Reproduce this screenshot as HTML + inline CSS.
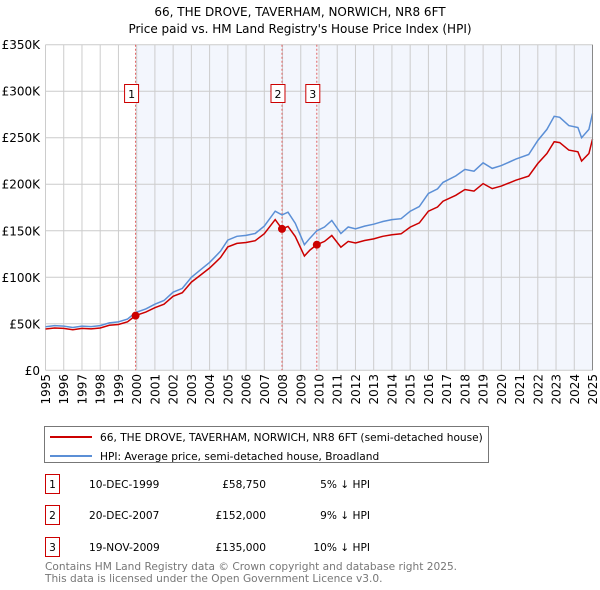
<!DOCTYPE html>
<html><head><meta charset="utf-8"><style>
body{margin:0;background:#fff;font-family:"DejaVu Sans","Liberation Sans",sans-serif;}
svg{display:block}
</style></head><body>
<svg id="c" width="600" height="590" xmlns="http://www.w3.org/2000/svg">
<text x="300" y="16" text-anchor="middle" font-size="12" fill="#000">66, THE DROVE, TAVERHAM, NORWICH, NR8 6FT</text>
<text x="300" y="33" text-anchor="middle" font-size="12" fill="#000">Price paid vs. HM Land Registry's House Price Index (HPI)</text>
<g id="plot"></g>
<g>
<rect x="44.5" y="426.5" width="444" height="36" fill="#fff" stroke="#777"/>
<line x1="50" y1="437" x2="92" y2="437" stroke="#cc0000" stroke-width="2"/>
<text x="100" y="441" font-size="10.6">66, THE DROVE, TAVERHAM, NORWICH, NR8 6FT (semi-detached house)</text>
<line x1="50" y1="456" x2="92" y2="456" stroke="#5b8fd6" stroke-width="2"/>
<text x="100" y="460" font-size="10.6">HPI: Average price, semi-detached house, Broadland</text>
</g>
<g font-size="10.6">
<rect x="45.5" y="474.5" width="14" height="19" fill="#fff" stroke="#cc0000"/><text x="52.5" y="488" text-anchor="middle">1</text>
<text x="89" y="488">10-DEC-1999</text><text x="266" y="488" text-anchor="end">£58,750</text><text x="370" y="488" text-anchor="end">5% ↓ HPI</text>
<rect x="45.5" y="505.5" width="14" height="19" fill="#fff" stroke="#cc0000"/><text x="52.5" y="519" text-anchor="middle">2</text>
<text x="89" y="519">20-DEC-2007</text><text x="266" y="519" text-anchor="end">£152,000</text><text x="370" y="519" text-anchor="end">9% ↓ HPI</text>
<rect x="45.5" y="537.5" width="14" height="19" fill="#fff" stroke="#cc0000"/><text x="52.5" y="551" text-anchor="middle">3</text>
<text x="89" y="551">19-NOV-2009</text><text x="266" y="551" text-anchor="end">£135,000</text><text x="370" y="551" text-anchor="end">10% ↓ HPI</text>
</g>
<text x="45" y="570" font-size="10.6" fill="#777">Contains HM Land Registry data © Crown copyright and database right 2025.</text>
<text x="45" y="582" font-size="10.6" fill="#777">This data is licensed under the Open Government Licence v3.0.</text>
</svg>
<script>
const hpiYears=[1995,1995.5,1996,1996.5,1997,1997.5,1998,1998.5,1999,1999.5,1999.94,2000.5,2001,2001.5,2002,2002.5,2003,2003.5,2004,2004.3,2004.6,2005,2005.5,2006,2006.5,2007,2007.6,2007.97,2008.3,2008.7,2009.2,2009.5,2009.88,2010.3,2010.7,2011.2,2011.6,2012,2012.5,2013,2013.5,2014,2014.5,2015,2015.5,2016,2016.5,2016.8,2017.5,2018,2018.5,2019,2019.5,2020,2020.8,2021.5,2022,2022.5,2022.9,2023.2,2023.7,2024.2,2024.4,2024.8,2025];
const hpiValues=[46.8,48,47.5,46,47.5,47,48,51,52,55,62,66,71,75,84,88,100,108,116,122,128,140,144,145,147,155,171,167,170,158,135,142,150,154,161,147,154,152,155,157,160,162,163,171,176,190,195,202,209,216,214,223,217,220,227,232,247,259,273,272,263,261,250,259,276];
const saleYears=[1999.94,2007.97,2009.88];
const salePrices=[58.75,152,135];
const saleLabels=["1","2","3"];
const yTicks=[0,50,100,150,200,250,300,350];
const yTickLabels=["£0","£50K","£100K","£150K","£200K","£250K","£300K","£350K"];
const xTicks=[1995,1996,1997,1998,1999,2000,2001,2002,2003,2004,2005,2006,2007,2008,2009,2010,2011,2012,2013,2014,2015,2016,2017,2018,2019,2020,2021,2022,2023,2024,2025];

const X0=45.5,X1=592.5,Y0=370.3,Y1=44.7;
const sx=y=>X0+(y-1995)/30*(X1-X0);
const sy=v=>Y0-v/350*(Y0-Y1);
const NS="http://www.w3.org/2000/svg";
const g=document.getElementById('plot');
function mk(t,a,p){const e=document.createElementNS(NS,t);for(const k in a)e.setAttribute(k,a[k]);(p||g).appendChild(e);return e;}
function hpiAt(t){for(let i=1;i<hpiYears.length;i++){if(t<=hpiYears[i]){const f=(t-hpiYears[i-1])/(hpiYears[i]-hpiYears[i-1]);return hpiValues[i-1]+f*(hpiValues[i]-hpiValues[i-1]);}}return hpiValues[hpiValues.length-1];}

let r=mk('rect',{x:sx(saleYears[0]),y:Y1,width:X1-sx(saleYears[0]),height:Y0-Y1,fill:'#f3f6fd'});


xTicks.forEach(t=>{
  const l=mk('line',{x1:sx(t),x2:sx(t),y1:Y1,y2:Y0,stroke:'#cccccc','stroke-width':1});
  
  
  const tx=mk('text',{x:0,y:0,transform:`translate(${sx(t)+4.5},374) rotate(-90)`,'text-anchor':'end','font-size':12,fill:'#000'});
  tx.textContent=t;
  
  
});
yTicks.forEach((v,i)=>{
  const l=mk('line',{x1:X0,x2:X1,y1:sy(v),y2:sy(v),stroke:'#cccccc','stroke-width':1});
  
  
  const tx=mk('text',{x:40,y:sy(v)+4.5,'text-anchor':'end','font-size':12,fill:'#000'});
  tx.textContent=yTickLabels[i];
  
  
});
saleYears.forEach((s,i)=>{
  const l=mk('line',{x1:sx(s),x2:sx(s),y1:Y1,y2:Y0,stroke:'#e06060','stroke-width':1,'stroke-dasharray':'2,2'});
  
  
});
let d=hpiYears.map((t,i)=>(i?'L':'M')+sx(t).toFixed(1)+','+sy(hpiValues[i]).toFixed(1)).join('');
let p=mk('path',{d:d,fill:'none',stroke:'#5b8fd6','stroke-width':1.5});


let pd='';
hpiYears.forEach((t,i)=>{
  let k=0;for(let j=0;j<saleYears.length;j++)if(t>=saleYears[j]-0.01)k=j;
  const ratio=salePrices[k]/hpiAt(saleYears[k]);
  pd+=(i?'L':'M')+sx(t).toFixed(1)+','+sy(hpiValues[i]*ratio).toFixed(1);
});
p=mk('path',{d:pd,fill:'none',stroke:'#cc0000','stroke-width':1.5});


saleYears.forEach((s,i)=>{
  const c=mk('circle',{cx:sx(s),cy:sy(salePrices[i]),r:4,fill:'#cc0000'});
  
  
  const b=mk('rect',{x:sx(s)-11,y:84.5,width:14,height:18,fill:'#fff',stroke:'#cc0000'});
  
  
  const tx=mk('text',{x:sx(s)-4,y:98,'text-anchor':'middle','font-size':11});
  tx.textContent=saleLabels[i];
  
  
});
const ax=mk('line',{x1:X1,x2:X1,y1:Y1,y2:Y0,stroke:'#888','stroke-width':1});


</script>
</body></html>
